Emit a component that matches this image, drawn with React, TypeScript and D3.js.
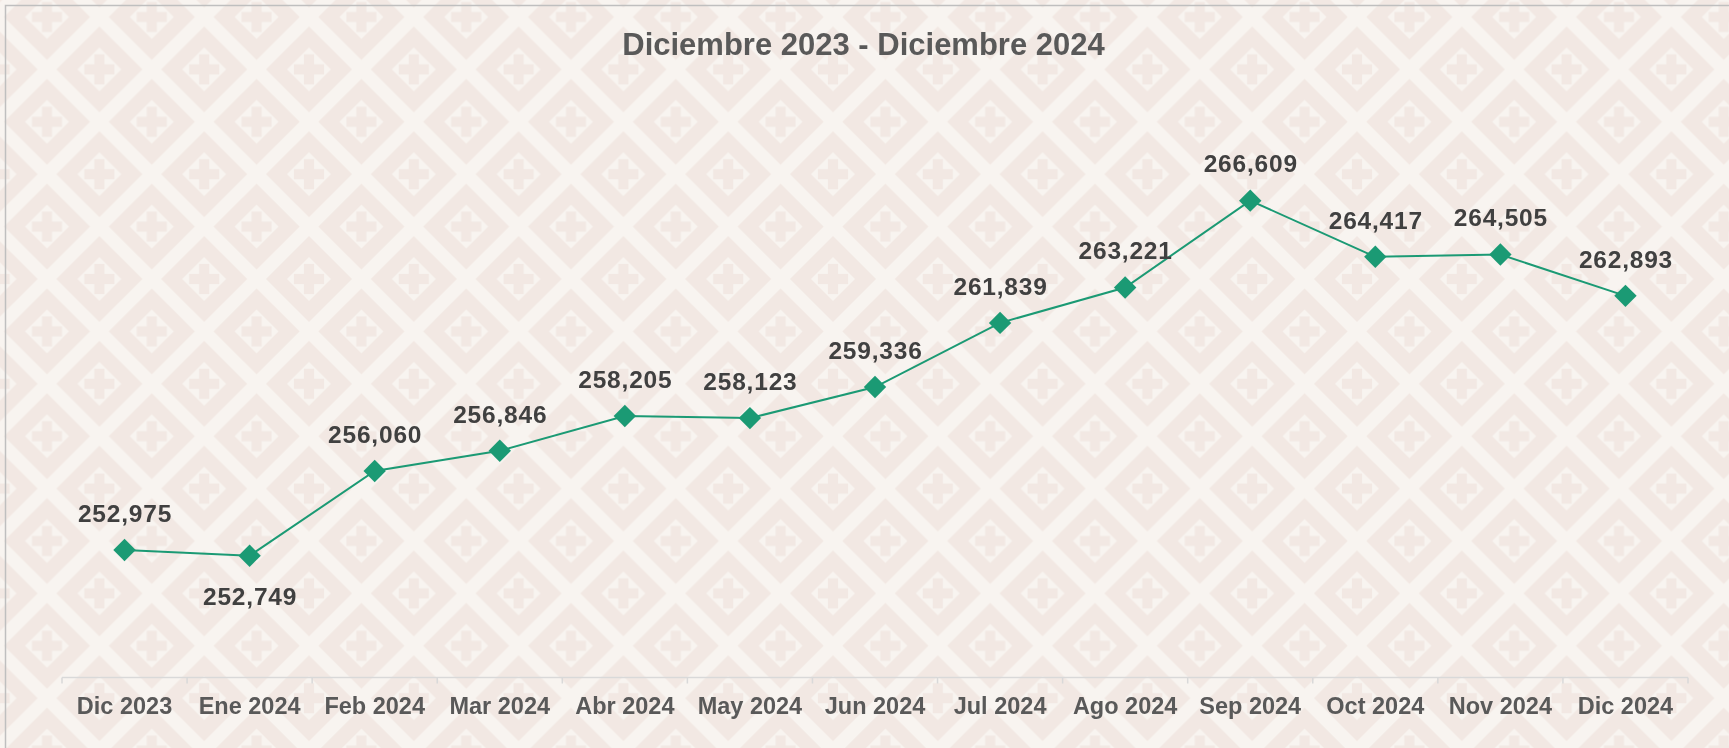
import React from "react";
import * as d3 from "d3";

// chart data
const months = [
  "Dic 2023", "Ene 2024", "Feb 2024", "Mar 2024", "Abr 2024", "May 2024", "Jun 2024",
  "Jul 2024", "Ago 2024", "Sep 2024", "Oct 2024", "Nov 2024", "Dic 2024",
];
const values = [
  252975, 252749, 256060, 256846, 258205, 258123, 259336,
  261839, 263221, 266609, 264417, 264505, 262893,
];
// labels that sit below their point
const labelBelow = ["Ene 2024"];
const title = "Diciembre 2023 - Diciembre 2024";

const W = 1729,
  H = 748;
const margin = { top: 165, left: 62, right: 41, axisY: 677.5 };

const green = "#1b9a74";
const font = "'Liberation Sans', Arial, sans-serif";

const xScale = d3
  .scaleBand<string>()
  .domain(months)
  .range([margin.left, W - margin.right])
  .padding(0);

const yScale = d3.scaleLinear().domain([248000, 268000]).range([margin.axisY, margin.top]);

const fmt = d3.format(",");

// one diamond + cross motif of the background, centred at (cx, cy)
const Motif = ({ cx, cy }: { cx: number; cy: number }) => {
  const outer = 43,
    inner = 22,
    arm = 15,
    half = 5;
  const diamond = (r: number) =>
    `M${cx},${cy - r}L${cx + r},${cy}L${cx},${cy + r}L${cx - r},${cy}Z`;
  return (
    <g>
      <path d={diamond(outer)} fill="#f2e8e3" />
      <path d={diamond(inner)} fill="#f8f4f0" />
      <rect x={cx - half} y={cy - arm} width={half * 2} height={arm * 2} fill="#f2e8e3" />
      <rect x={cx - arm} y={cy - half} width={arm * 2} height={half * 2} fill="#f2e8e3" />
    </g>
  );
};

export default function App() {
  const P = 104.8;
  const h = P / 2;
  const cx = (i: number) => xScale(months[i])! + xScale.bandwidth() / 2;
  const line = d3
    .line<number>()
    .x((d, i) => cx(i))
    .y((d) => yScale(d));
  const step = xScale.step();

  return (
    <svg
      width={W}
      height={H}
      style={{ position: "fixed", top: 0, left: 0, display: "block" }}
    >
      <defs>
        <pattern
          id="bg"
          patternUnits="userSpaceOnUse"
          x={47 - h}
          y={17 - h}
          width={P}
          height={P}
        >
          <rect width={P} height={P} fill="#f8f4f0" />
          <Motif cx={0} cy={0} />
          <Motif cx={P} cy={0} />
          <Motif cx={0} cy={P} />
          <Motif cx={P} cy={P} />
          <Motif cx={h} cy={h} />
        </pattern>
      </defs>
      <rect width={W} height={H} fill="url(#bg)" />
      <rect x={5.5} y={5.5} width={W - 4} height={H + 10} fill="none" stroke="#bfbfbf" strokeWidth={1.5} />

      {/* title */}
      <text
        x={863.5}
        y={55}
        textAnchor="middle"
        fontFamily={font}
        fontWeight="bold"
        fontSize={31}
        fill="#595959"
      >
        {title}
      </text>

      {/* x axis */}
      <line
        x1={margin.left}
        x2={W - margin.right}
        y1={margin.axisY}
        y2={margin.axisY}
        stroke="#d9d9d9"
        strokeWidth={1.5}
      />
      {d3.range(months.length + 1).map((i) => (
        <line
          key={"t" + i}
          x1={margin.left + i * step}
          x2={margin.left + i * step}
          y1={margin.axisY}
          y2={margin.axisY + 6}
          stroke="#d9d9d9"
          strokeWidth={1.5}
        />
      ))}
      {months.map((m, i) => (
        <text
          key={m}
          x={cx(i)}
          y={714}
          textAnchor="middle"
          fontFamily={font}
          fontWeight="bold"
          fontSize={23.5}
          fill="#595959"
        >
          {m}
        </text>
      ))}

      {/* series */}
      <path d={line(values)!} fill="none" stroke={green} strokeWidth={2} />
      {values.map((v, i) => {
        const x = cx(i);
        const y = yScale(v);
        const r = 11.2;
        return (
          <path
            key={"m" + i}
            d={`M${x},${y - r}L${x + r},${y}L${x},${y + r}L${x - r},${y}Z`}
            fill={green}
          />
        );
      })}
      {values.map((v, i) => {
        const below = labelBelow.includes(months[i]);
        const y = yScale(v);
        return (
          <text
            key={"l" + i}
            x={cx(i) + 0.5}
            y={below ? y + 49 : y - 28.3}
            textAnchor="middle"
            fontFamily={font}
            fontWeight="bold"
            fontSize={24.5}
            letterSpacing={0.8}
            fill="#404040"
          >
            {fmt(v)}
          </text>
        );
      })}
    </svg>
  );
}
